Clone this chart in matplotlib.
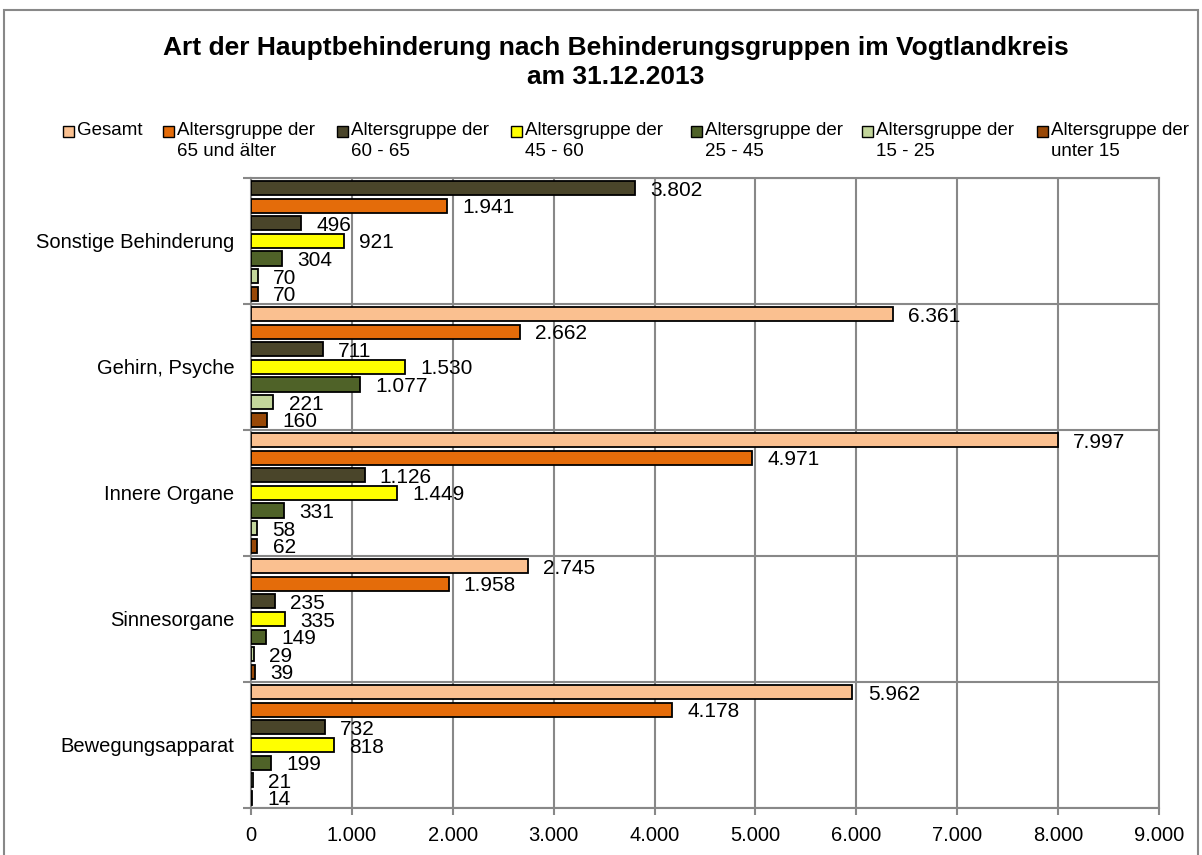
import matplotlib.pyplot as plt
import numpy as np
from matplotlib.patches import Rectangle

plt.rcParams['font.family'] = ['Liberation Sans', 'DejaVu Sans']

kategorien = ["Bewegungsapparat", "Sinnesorgane", "Innere Organe",
              "Gehirn, Psyche", "Sonstige Behinderung"]

gesamt     = [5962, 2745, 7997, 6361, 3802]
ab65       = [4178, 1958, 4971, 2662, 1941]
von60_65   = [732, 235, 1126, 711, 496]
von45_60   = [818, 335, 1449, 1530, 921]
von25_45   = [199, 149, 331, 1077, 304]
von15_25   = [21, 29, 58, 221, 70]
unter15    = [14, 39, 62, 160, 70]

reihen = [gesamt, ab65, von60_65, von45_60, von25_45, von15_25, unter15]
namen = ["Gesamt", "Altersgruppe der\n65 und älter", "Altersgruppe der\n60 - 65",
         "Altersgruppe der\n45 - 60", "Altersgruppe der\n25 - 45",
         "Altersgruppe der\n15 - 25", "Altersgruppe der\nunter 15"]
farben = ["#FAC090", "#E46C0A", "#4A452A", "#FFFF00", "#4F6228", "#C3D69B", "#984807"]

# Gesamt bar of "Sonstige Behinderung" is coloured differently in the original
gesamt_farben = [farben[0]] * 4 + ["#4A452A"]

fig = plt.figure(figsize=(12.02, 8.55), dpi=100)
ax = fig.add_axes([0.2088, 0.055, 0.7554, 0.737])

y = np.arange(len(kategorien))
slot = 0.14
hoehe = 0.112
for i, werte in enumerate(reihen):
    pos = y + (3 - i) * slot
    fc = gesamt_farben if i == 0 else farben[i]
    bars = ax.barh(pos, werte, height=hoehe, color=fc, edgecolor="black",
                   linewidth=1.3, zorder=3)
    for b, v in zip(bars, werte):
        txt = f"{v:,}".replace(",", ".")
        ax.annotate(txt, (v, b.get_y() + b.get_height() / 2),
                    xytext=(11, -1.5), textcoords="offset points",
                    ha="left", va="center", fontsize=15, zorder=4)

ax.set_xlim(0, 9000)
ax.set_ylim(-0.5, 4.5)
ax.set_xticks(np.arange(0, 9001, 1000))
ax.set_xticklabels([f"{v:,}".replace(",", ".") for v in range(0, 9001, 1000)],
                   fontsize=14.5)
ax.set_yticks(y)
ax.set_yticklabels(kategorien, fontsize=14.5)
ax.set_yticks(np.arange(-0.5, 4.6, 1), minor=True)
ax.tick_params(axis="y", which="major", length=0, pad=12)
ax.tick_params(axis="y", which="minor", length=6, width=1.5, color="#888888")
ax.tick_params(axis="x", length=5, width=1.5, color="#888888", pad=8)
ax.grid(axis="x", color="#888888", linewidth=1.5, zorder=0)
ax.grid(axis="y", which="minor", color="#888888", linewidth=1.5, zorder=0)
for s in ax.spines.values():
    s.set_color("#888888")
    s.set_linewidth(1.5)

fig.text(0.5125, 1 - 48 / 855, "Art der Hauptbehinderung nach Behinderungsgruppen im Vogtlandkreis",
         ha="center", va="center", fontsize=19, fontweight="bold")
fig.text(0.5125, 1 - 77 / 855, "am 31.12.2013",
         ha="center", va="center", fontsize=19, fontweight="bold")

# legend drawn by hand so the marker sits at the first text line
leg_x = [63, 163, 337, 511, 691, 862, 1037]
W, H = 1202, 855
for lx, name, f in zip(leg_x, namen, farben):
    fig.patches.append(Rectangle((lx / W, 1 - 137 / H), 11 / W, 11 / H,
                                 transform=fig.transFigure, facecolor=f,
                                 edgecolor="black", linewidth=1.0))
    fig.text((lx + 14) / W, 1 - 122 / H, name, ha="left", va="top",
             fontsize=13.5, linespacing=1.3)

# outer chart frame
fig.patches.append(Rectangle((4 / W, -0.01), 1194 / W, 1 - 10 / H + 0.01,
                             transform=fig.transFigure, fill=False,
                             edgecolor="#888888", linewidth=1.5))

fig.savefig("out.png", dpi=100)
